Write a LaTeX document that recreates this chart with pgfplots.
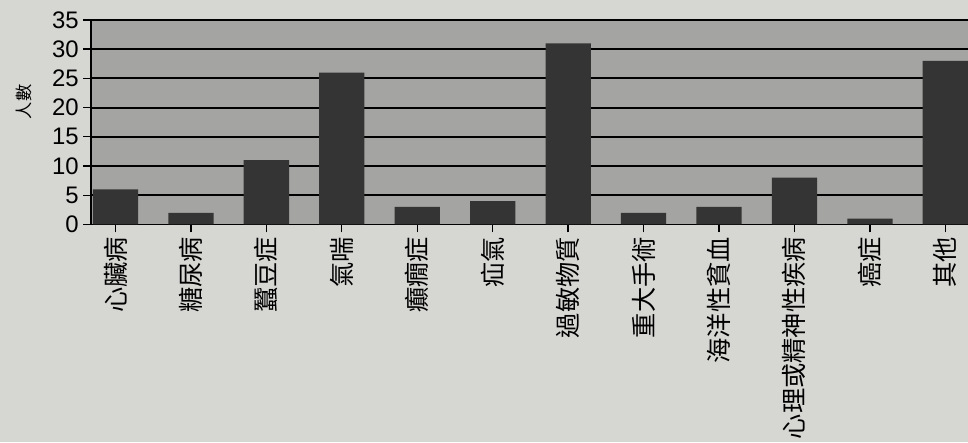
\documentclass[border=0pt]{standalone}
\usepackage{fontspec}
\usepackage{xcolor}
\usepackage{pgfplots}
\pgfplotsset{compat=1.18}
\setmainfont{Liberation Sans}
\newfontfamily\cjk{Noto Sans CJK TC}
\definecolor{paper}{HTML}{D6D6D3}
\definecolor{plotbg}{HTML}{A4A4A2}
\definecolor{barc}{HTML}{343434}

\begin{document}
\pagecolor{paper}
\begin{tikzpicture}
\path[use as bounding box] (-66pt,-164pt) rectangle (660pt,169pt);
\begin{axis}[
    scale only axis,
    width=660pt,
    height=154pt,
    xmin=-0.32, xmax=11.3,
    ymin=0, ymax=35,
    ytick={0,5,...,35},
    xtick={0,...,11},
    xticklabels={心臟病,糖尿病,蠶豆症,氣喘,癲癇症,疝氣,過敏物質,重大手術,海洋性貧血,心理或精神性疾病,癌症,其他},
    x tick label style={font=\cjk\fontsize{19}{19}\selectfont, rotate=90, anchor=east},
    y tick label style={font=\fontsize{18}{18}\selectfont},
    /pgf/number format/assume math mode=true,
    axis background/.style={fill=plotbg},
    ymajorgrids,
    grid style={black, line width=1.4pt},
    axis x line*=bottom,
    axis y line*=left,
    axis line style={black, line width=1.4pt},
    tick align=outside,
    major tick length=6pt,
    tick style={black, line width=1pt},
    ylabel={\cjk 人數},
    ylabel style={font=\fontsize{13}{13}\selectfont, at={(axis description cs:-0.077,0.6)}, anchor=center},
]
\addplot[ybar, fill=barc, draw=none, bar width=0.6] coordinates {
(0,6) (1,2) (2,11) (3,26) (4,3) (5,4) (6,31) (7,2) (8,3) (9,8) (10,1) (11,28)
};
\end{axis}
\end{tikzpicture}
\end{document}
